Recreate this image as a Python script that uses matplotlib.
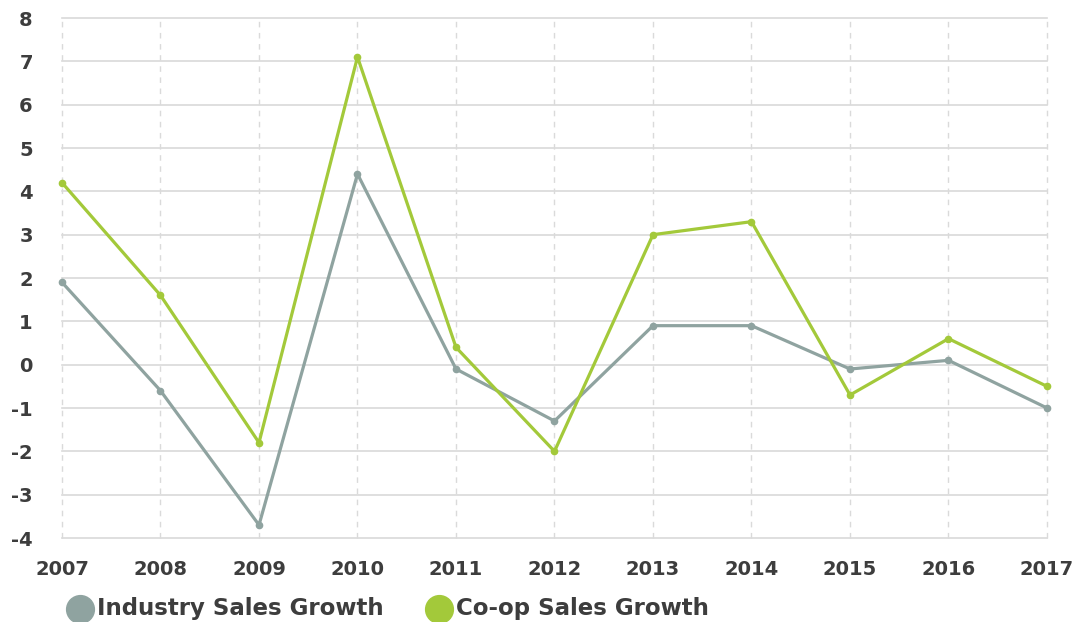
import matplotlib.pyplot as plt
from matplotlib.lines import Line2D

plt.rcParams['axes.unicode_minus'] = False

years = [2007, 2008, 2009, 2010, 2011, 2012, 2013, 2014, 2015, 2016, 2017]
industry = [1.9, -0.6, -3.7, 4.4, -0.1, -1.3, 0.9, 0.9, -0.1, 0.1, -1.0]
coop = [4.2, 1.6, -1.8, 7.1, 0.4, -2.0, 3.0, 3.3, -0.7, 0.6, -0.5]
yticks = list(range(-4, 9))

gray = '#8fa3a0'
green = '#a3c93a'
txt = '#3d3d3d'

W, H = 1072, 622
fig = plt.figure(figsize=(W / 100, H / 100), dpi=100)
ax = fig.add_axes([62 / W, 1 - 538 / H, (1047 - 62) / W, (538 - 18) / H])

for y in yticks:
    ax.axhline(y, color='#d9d9d9', lw=1.2, zorder=0, clip_on=False)
for x in years:
    ax.axvline(x, color='#dadada', lw=1.0, ls=(0, (4, 4)), zorder=0, clip_on=False)

ax.plot(years, industry, color=gray, lw=2.3, marker='o', ms=4.5, zorder=3, clip_on=False)
ax.plot(years, coop, color=green, lw=2.3, marker='o', ms=4.5, zorder=4, clip_on=False)

ax.set_xlim(years[0], years[-1])
ax.set_ylim(-4, 8)
ax.set_xticks(years)
ax.set_yticks(yticks)
ax.tick_params(length=0, labelsize=14, colors=txt)
ax.tick_params(axis='x', pad=16)
ax.tick_params(axis='y', pad=21)
for lab in ax.get_xticklabels() + ax.get_yticklabels():
    lab.set_fontweight('bold')
for s in ax.spines.values():
    s.set_visible(False)

# legend at the bottom
items = [('Industry Sales Growth', gray, 80), ('Co-op Sales Growth', green, 439)]
ly = 1 - 609 / H
for label, col, cx in items:
    fig.add_artist(Line2D([cx / W], [ly], marker='o', ms=20, color=col, ls='none',
                          transform=fig.transFigure))
    fig.text((cx + 17) / W, ly, label, fontsize=16.5, fontweight='bold', color=txt,
             va='center', ha='left')

fig.savefig('out.png', dpi=100)
